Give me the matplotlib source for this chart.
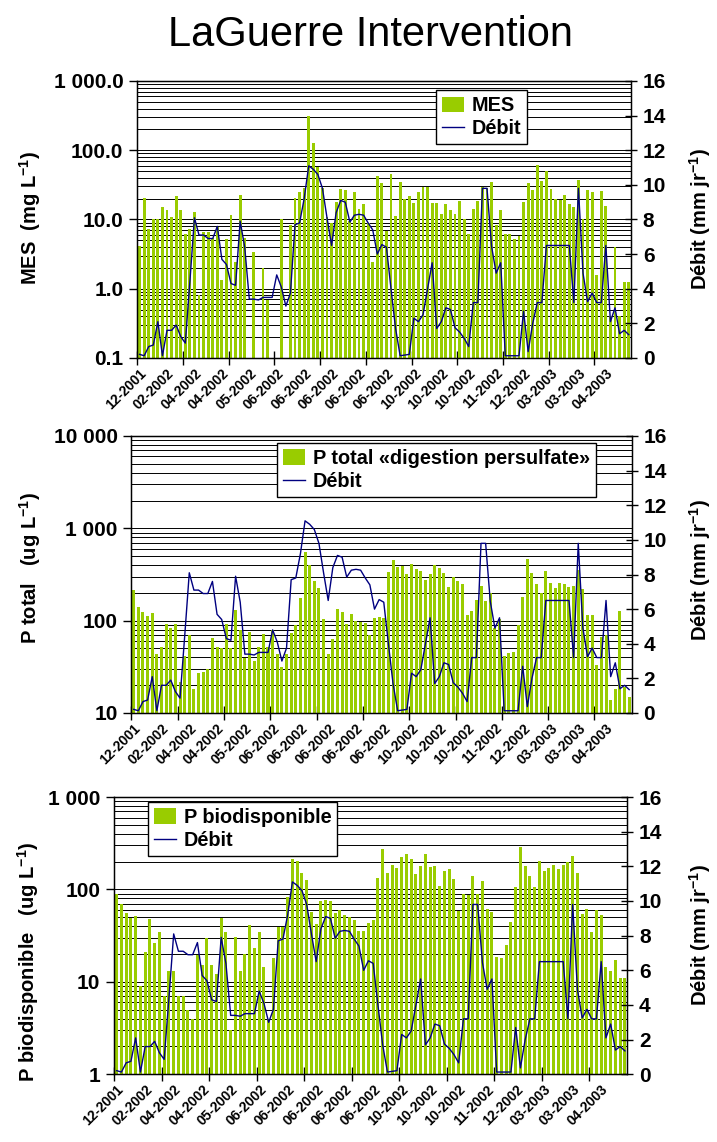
import numpy as np
import matplotlib
matplotlib.use('Agg')
import matplotlib.pyplot as plt
from matplotlib.ticker import LogLocator, NullFormatter

plt.rcParams['font.family'] = ['Liberation Sans', 'DejaVu Sans']
plt.rcParams['mathtext.fontset'] = 'custom'
plt.rcParams['mathtext.rm'] = 'Liberation Sans'
plt.rcParams['mathtext.bf'] = 'Liberation Sans:bold'

nan = np.nan

# x axis labels (one every 6 samples)
date_labels = ['12-2001', '02-2002', '04-2002', '04-2002', '05-2002', '06-2002',
               '06-2002', '06-2002', '06-2002', '06-2002', '10-2002', '10-2002',
               '10-2002', '11-2002', '12-2002', '03-2003', '03-2003', '04-2003']

# Débit (mm/jr), same series on the 3 panels
debit = [0.21, 0.13, 0.66, 0.75, 2.1, 0.13, 1.6, 1.6, 1.9, 1.24,
         0.86, 4.4, 8.1, 7.1, 7.1, 6.9, 6.9, 7.6, 5.7, 5.4,
         4.3, 4.2, 7.9, 6.4, 3.4, 3.4, 3.35, 3.5, 3.5, 3.5,
         4.8, 4.1, 3.0, 3.75, 7.7, 7.8, 9.2, 11.1, 10.9, 10.6,
         9.8, 8.1, 6.5, 8.4, 9.1, 9.0, 7.85, 8.25, 8.3, 8.25,
         7.8, 7.4, 6.0, 6.55, 6.4, 4.0, 1.7, 0.13, 0.17, 0.21,
         2.3, 2.1, 2.5, 4.0, 5.5, 1.7, 2.1, 2.9, 2.8, 1.75,
         1.5, 1.14, 0.66, 3.2, 3.2, 9.8, 9.8, 6.45, 4.9, 5.5,
         0.13, 0.13, 0.13, 0.13, 2.7, 0.37, 2.0, 3.2, 3.2, 6.5,
         6.5, 6.5, 6.5, 6.5, 6.5, 3.2, 9.8, 4.9, 3.25, 3.75,
         3.2, 3.2, 6.5, 2.1, 2.9, 1.4, 1.6, 1.35]

# MES (mg/L)
mes = [4.1, 20.6, 7.2, 10.3, 10.3, 15.4, 13.6, 10.9, 21.5, 13.6,
       6.1, 7.2, 12.8, 0.8, 6.5, 6.5, 5.4, 7.8, 1.35, 5.3,
       11.8, 2.4, 22.5, 5.4, nan, 3.4, nan, 2.0, 0.69, nan,
       nan, 10.3, nan, 8.2, 20.6, 25, 28.5, 314, 129, 57,
       28.8, 10.9, 9.0, 18, 27.8, 26.3, 9.5, 25, 14.4, 17,
       9.0, 2.4, 43, 34, 6.8, 46, 11.2, 35, 19.5, 21.5,
       17.5, 25, 29, 29, 17.5, 17.5, 12.2, 16.6, 13.5, 12.2,
       18.6, 10.3, 6.1, 14.3, 18.2, 29.4, 28.8, 35, 8.2, 13.5,
       6.1, 6.1, 5.3, 5.7, 18, 34, 26.3, 61, 36, 51,
       27.8, 19.5, 18.9, 22.3, 17, 15.3, 37, 10, 27, 25.2,
       1.6, 25.7, 15.6, 0.4, 4.0, 0.4, 1.24, 1.24]

# P total (ug/L)
p_total = [215, 142, 125, 112, 122, 43.6, 52, 91, 83, 91,
           21.9, 41.5, 70, 18, 27.4, 28, 29.7, 65, 52, 50,
           92, 50, 131, 79, 39, 76, 36.6, 52.5, 71, 52.5,
           79, 43.6, 31.8, 44, 73, 90, 175, 560, 401, 269,
           224, 104, 43.6, 63, 133, 125, 92, 117, 100, 97,
           93.6, 70, 106, 109, 106, 334, 455, 379, 392, 321,
           411, 360, 349, 276, 321, 401, 370, 331, 230, 300,
           269, 250, 115, 128, 168, 238, 164, 201, 84, 103,
           41.5, 45, 45.8, 90, 182, 462, 326, 250, 198, 345,
           258, 224, 258, 250, 230, 238, 355, 219, 115, 115,
           33, 66, 70, 13.8, 18, 128, 19.3, 15]

# P biodisponible (ug/L)
p_bio = [90, 70, 55, 49.5, 52, 9.0, 21, 47.6, 26.4, 34.4,
         7.1, 13.1, 13, 7.1, 7.1, 5.0, 4.0, 19.3, 15.2, 29.6,
         15.2, 12.2, 49.5, 34.4, 3.0, 30.4, 13.2, 19.9, 41.3, 23.5,
         34.4, 14.4, 4.0, 18, 39.6, 39.6, 83.6, 214, 203, 150,
         128, 57.5, 42, 75, 77, 75.8, 55.3, 60, 52.4, 50,
         46.8, 35.6, 35.6, 43, 46.8, 132, 272, 150, 184, 170,
         226, 240, 214, 146, 180, 240, 175, 178, 110, 159,
         166, 129, 58.5, 88.7, 87, 141, 88.7, 124, 61.5, 57.5,
         18.7, 18, 25, 44.8, 105, 290, 180, 141, 107, 205,
         159, 170, 184, 167, 184, 197, 232, 150, 54, 61.5,
         35, 59.4, 53, 14.4, 13.2, 17.3, 11.1, 11.1]

GREEN = '#99CC00'
NAVY = '#000080'
W, H = 717, 1142

fig = plt.figure(figsize=(W / 100, H / 100), dpi=100)


def px_rect(left, right, top, bottom):
    return [left / W, 1 - bottom / H, (right - left) / W, (bottom - top) / H]


def draw_panel(rect, values, ylim, ytick_vals, ytick_labels, leg_label, leg_anchor):
    ax = fig.add_axes(rect)
    n = len(values)
    x = np.arange(n)
    vals = np.array(values, dtype=float)

    ax.set_yscale('log')
    ax.set_ylim(*ylim)
    ax.set_xlim(-0.5, n - 0.5)
    ax.set_axisbelow(True)
    bars = ax.bar(x, vals - ylim[0], bottom=ylim[0], width=0.65,
                  color=GREEN, linewidth=0)

    ax.set_yticks(ytick_vals, ytick_labels, fontsize=15, fontweight='bold')
    ax.yaxis.set_minor_locator(LogLocator(base=10, subs=np.arange(2, 10)))
    ax.yaxis.set_minor_formatter(NullFormatter())
    ax.tick_params(axis='y', which='minor', length=0)
    ax.tick_params(axis='y', which='major', direction='out', length=6, width=1, pad=4)
    ax.grid(True, axis='y', which='both', color='black', linewidth=0.7)

    ax.set_xticks(np.arange(0, n, 6), date_labels, rotation=45, ha='right',
                  rotation_mode='anchor', fontsize=10, fontweight='bold')
    ax.tick_params(axis='x', which='major', length=0, pad=6)
    ax.set_xticks(np.arange(-0.5, n, 10), minor=True)
    ax.tick_params(axis='x', which='minor', direction='inout', length=10, width=1)
    for s in ax.spines.values():
        s.set_linewidth(1)

    ax2 = ax.twinx()
    line, = ax2.plot(x, debit, color=NAVY, linewidth=1)
    ax2.set_ylim(0, 16)
    ax2.set_yticks(range(0, 17, 2), [str(v) for v in range(0, 17, 2)],
                   fontsize=15, fontweight='bold')
    ax2.tick_params(axis='y', direction='inout', length=9, width=1, pad=4)

    leg = ax2.legend([bars, line], [leg_label, 'Débit'], loc='upper left',
                     bbox_to_anchor=leg_anchor, prop={'weight': 'bold', 'size': 14.3},
                     frameon=True, fancybox=False, edgecolor='black', framealpha=1,
                     borderaxespad=0, handlelength=1.1, handleheight=0.8,
                     handletextpad=0.4, borderpad=0.3, labelspacing=0.2)
    leg.get_frame().set_linewidth(1)
    return ax, ax2


# panel 1 : MES
draw_panel(px_rect(137.3, 631, 81, 358), mes, (0.1, 1000),
           [0.1, 1, 10, 100, 1000], ['0.1', '1.0', '10.0', '100.0', '1 000.0'],
           'MES', (0.605, 0.966))
# panel 2 : P total
draw_panel(px_rect(131.4, 631.5, 436, 713), p_total, (10, 10000),
           [10, 100, 1000, 10000], ['10', '100', '1 000', '10 000'],
           'P total «digestion persulfate»', (0.291, 0.975))
# panel 3 : P biodisponible
draw_panel(px_rect(114.3, 627.3, 797, 1074.3), p_bio, (1, 1000),
           [1, 10, 100, 1000], ['1', '10', '100', '1 000'],
           'P biodisponible', (0.066, 0.982))

unit = r'$^{\mathbf{-1}}$'
fig.text(30 / W, 1 - 218 / H, 'MES  (mg L' + unit + ')', rotation=90, ha='center',
         va='center', fontsize=14.5, fontweight='bold')
fig.text(30 / W, 1 - 568 / H, 'P total   (ug L' + unit + ')', rotation=90, ha='center',
         va='center', fontsize=14.5, fontweight='bold')
fig.text(28 / W, 1 - 962 / H, 'P biodisponible   (ug L' + unit + ')', rotation=90,
         ha='center', va='center', fontsize=14.5, fontweight='bold')
for yc in (219, 570, 935):
    fig.text(700 / W, 1 - yc / H, 'Débit (mm jr' + unit + ')', rotation=90,
             ha='center', va='center', fontsize=14.5, fontweight='bold')

fig.text(370 / W, 1 - 35 / H, 'LaGuerre Intervention', ha='center', va='center',
         fontsize=30)

fig.savefig('out.png', dpi=100)
